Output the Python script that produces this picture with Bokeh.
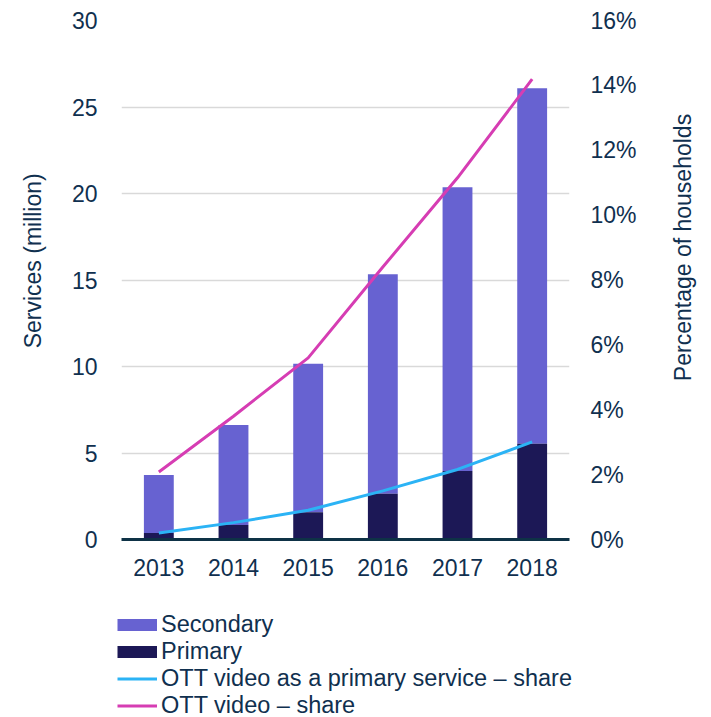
from math import pi, nan
from bokeh.plotting import figure
from bokeh.layouts import column, row
from bokeh.core.properties import value
from bokeh.models import (Range1d, LinearAxis, SingleIntervalTicker, CustomJSTickFormatter,
                          Legend, LegendItem, ColumnDataSource, FactorRange)
from bokeh.embed import file_html
from bokeh.resources import INLINE

years = ["2013", "2014", "2015", "2016", "2017", "2018"]
primary = [0.37, 0.84, 1.57, 2.65, 3.96, 5.54]
secondary = [3.36, 5.78, 8.59, 12.68, 16.40, 20.54]
ott_primary_share = [0.20, 0.52, 0.90, 1.50, 2.16, 3.01]
ott_share = [2.08, 3.80, 5.60, 8.40, 11.15, 14.19]
series_names = ["Secondary", "Primary", "OTT video as a primary service \u2013 share", "OTT video \u2013 share"]
left_title = "Services (million)"
right_title = "Percentage of households"

FONT = "Liberation Sans"
TXT = "#10304F"
FS = "23px"
C_SEC = "#6762D1"
C_PRI = "#1C1856"
C_BLUE = "#2BB3F5"
C_PINK = "#D63DB3"

total = [a + b for a, b in zip(primary, secondary)]
src = ColumnDataSource(dict(years=years, primary=primary, total=total,
                            blue=ott_primary_share, pink=ott_share))

p = figure(width=660, height=600, x_range=FactorRange(*years), y_range=Range1d(0, 30),
           output_backend="svg", toolbar_location=None,
           min_border_left=121, min_border_right=91, min_border_top=20, min_border_bottom=61)
p.frame_align = False
p.outline_line_color = None
p.extra_y_ranges = {"pct": Range1d(0, 16)}

p.vbar(x="years", bottom="primary", top="total", width=0.4, source=src,
       fill_color=C_SEC, line_color=None)
p.vbar(x="years", bottom=0, top="primary", width=0.4, source=src,
       fill_color=C_PRI, line_color=None)
p.line(x="years", y="blue", source=src, y_range_name="pct", line_color=C_BLUE, line_width=3)
p.line(x="years", y="pink", source=src, y_range_name="pct", line_color=C_PINK, line_width=3)

NB = "\u00a0"

# left axis
ya = p.yaxis[0]
ya.ticker = SingleIntervalTicker(interval=5)
ya.axis_line_color = None
ya.major_tick_line_color = None
ya.minor_tick_line_color = None
ya.major_tick_out = 0
ya.major_tick_in = 0
ya.major_label_standoff = 20
ya.major_label_text_font = FONT
ya.major_label_text_font_size = FS
ya.major_label_text_color = TXT
ya.axis_label = NB * 6 + left_title
ya.axis_label_standoff = 23
ya.axis_label_text_font = FONT
ya.axis_label_text_font_size = FS
ya.axis_label_text_font_style = "normal"
ya.axis_label_text_color = TXT

# right axis
ra = LinearAxis(y_range_name="pct", ticker=SingleIntervalTicker(interval=2),
                formatter=CustomJSTickFormatter(code="return tick.toFixed(0) + '%';"))
ra.axis_line_color = None
ra.major_tick_line_color = None
ra.minor_tick_line_color = None
ra.major_tick_out = 0
ra.major_tick_in = 0
ra.major_label_standoff = 17
ra.major_label_text_font = FONT
ra.major_label_text_font_size = FS
ra.major_label_text_color = TXT
p.add_layout(ra, "right")

# x axis
xa = p.xaxis[0]
xa.axis_line_color = "#0E3246"
xa.axis_line_width = 3
xa.major_tick_line_color = None
xa.minor_tick_line_color = None
xa.major_tick_out = 0
xa.major_tick_in = 0
xa.major_label_standoff = 19
xa.major_label_text_font = FONT
xa.major_label_text_font_size = FS
xa.major_label_text_color = TXT

p.xgrid.grid_line_color = None
p.ygrid.grid_line_color = "#D9D9D9"
p.ygrid.grid_line_width = 1.5
p.ygrid.ticker = SingleIntervalTicker(interval=5)

# right-hand axis title strip (text read bottom-to-top)
rt = figure(width=51, height=600, x_range=Range1d(0, 51), y_range=Range1d(0, 600),
            output_backend="svg", toolbar_location=None,
            min_border_left=0, min_border_right=0, min_border_top=0, min_border_bottom=0)
rt.frame_align = False
rt.axis.visible = False
rt.grid.grid_line_color = None
rt.outline_line_color = None
rt.text(x=[22], y=[353], text=[right_title], angle=pi / 2, text_align="center",
        text_baseline="middle", text_font=value(FONT), text_font_size=value(FS), text_color=TXT)

# legend strip
lg = figure(width=711, height=117, x_range=Range1d(0, 1), y_range=Range1d(0, 1),
            output_backend="svg", toolbar_location=None,
            min_border_left=0, min_border_right=0, min_border_top=0, min_border_bottom=0)
lg.frame_align = False
lg.axis.visible = False
lg.grid.grid_line_color = None
lg.outline_line_color = None
sw_src = ColumnDataSource(dict(x=[0, 1], y=[nan, nan]))
sw = [lg.line(x="x", y="y", source=sw_src, line_color=C_SEC, line_width=12, line_cap="butt"),
      lg.line(x="x", y="y", source=sw_src, line_color=C_PRI, line_width=12, line_cap="butt"),
      lg.line(x="x", y="y", source=sw_src, line_color=C_BLUE, line_width=3),
      lg.line(x="x", y="y", source=sw_src, line_color=C_PINK, line_width=3)]
legend = Legend(items=[LegendItem(label=n, renderers=[r]) for n, r in zip(series_names, sw)],
                location=(117, -2), orientation="vertical",
                glyph_width=40, glyph_height=27, label_height=27, spacing=0, padding=0, margin=0,
                label_standoff=4, label_text_font=FONT, label_text_font_size="23.5px",
                label_text_color=TXT, border_line_color=None, background_fill_alpha=0)
lg.add_layout(legend, "center")

layout = column(row(p, rt, spacing=0), lg, spacing=0)
open("out.html", "w").write(file_html(layout, INLINE))
